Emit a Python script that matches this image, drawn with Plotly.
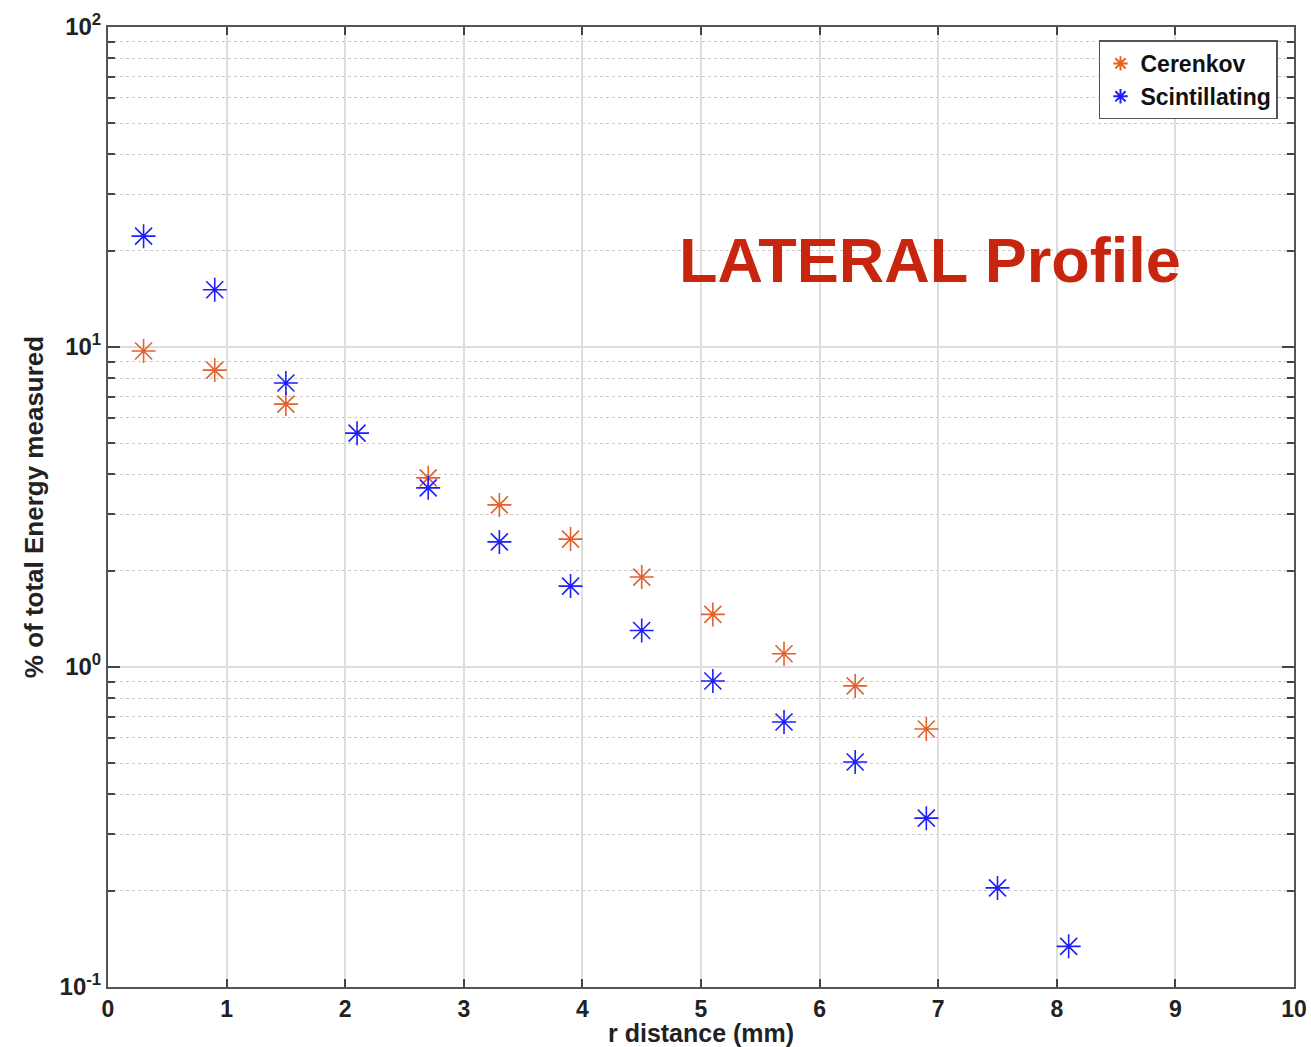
import plotly.graph_objects as go

r_cer = [0.3, 0.9, 1.5, 2.7, 3.3, 3.9, 4.5, 5.1, 5.7, 6.3, 6.9]
e_cer = [9.72, 8.47, 6.63, 3.90, 3.21, 2.51, 1.91, 1.46, 1.10, 0.873, 0.640]

r_sci = [0.3, 0.9, 1.5, 2.1, 2.7, 3.3, 3.9, 4.5, 5.1, 5.7, 6.3, 6.9, 7.5, 8.1]
e_sci = [22.2, 15.1, 7.72, 5.38, 3.63, 2.46, 1.79, 1.30, 0.904, 0.673, 0.505, 0.337, 0.204, 0.134]

x_ticks = list(range(0, 11))
y_tickvals = [0.1, 1, 10, 100]
y_ticktext = ["10<sup>-1</sup>", "10<sup>0</sup>", "10<sup>1</sup>", "10<sup>2</sup>"]
y_minor = [m * d for d in [0.1, 1, 10] for m in range(2, 10)]

ORANGE = "#E2612C"
BLUE = "#1E1EFF"
font_family = "Liberation Sans, Arial, sans-serif"

fig = go.Figure()
fig.add_trace(go.Scatter(
    x=r_cer, y=e_cer, mode="markers", name="Cerenkov",
    marker=dict(symbol="asterisk-open", size=20, color=ORANGE,
                line=dict(color=ORANGE, width=1.6)),
))
fig.add_trace(go.Scatter(
    x=r_sci, y=e_sci, mode="markers", name="Scintillating",
    marker=dict(symbol="asterisk-open", size=20, color=BLUE,
                line=dict(color=BLUE, width=1.6)),
))

fig.add_annotation(
    x=6.93, y=1.272, xref="x", yref="y", text="LATERAL Profile",
    showarrow=False, font=dict(family=font_family, size=63, color="#C8250F", weight="bold"),
    xanchor="center", yanchor="middle",
)

# x-axis title placed as annotation just below tick labels
fig.add_annotation(
    x=0.5, y=-0.048, xref="paper", yref="paper", text="r distance (mm)",
    showarrow=False, font=dict(family=font_family, size=25, color="#222222", weight="bold"),
    xanchor="center", yanchor="middle",
)

fig.update_layout(
    width=1311, height=1047,
    margin=dict(l=108, r=17, t=27, b=60, autoexpand=False),
    paper_bgcolor="white", plot_bgcolor="white",
    font=dict(family=font_family, size=22, color="#222222", weight="bold"),
    showlegend=True,
    legend=dict(
        x=0.9865, y=0.986, xanchor="right", yanchor="top",
        bgcolor="white", bordercolor="#555555", borderwidth=1.5,
        font=dict(size=23, color="#111111", weight="bold"),
        tracegroupgap=0, itemsizing="constant",
    ),
)

fig.update_xaxes(
    range=[0, 10], tickvals=x_ticks, ticktext=[str(v) for v in x_ticks],
    ticks="inside", ticklen=8, tickcolor="#444444", tickwidth=1.5,
    showline=True, linecolor="#555555", linewidth=2, mirror="ticks",
    showgrid=True, gridcolor="#DDDDDD", gridwidth=1.5,
    zeroline=False, automargin=False,
    tickfont=dict(size=23, weight="bold"),
)

fig.update_yaxes(
    type="log", range=[-1, 2], tickvals=y_tickvals, ticktext=y_ticktext,
    ticks="inside", ticklen=12, tickcolor="#444444", tickwidth=1.5,
    showline=True, linecolor="#555555", linewidth=2, mirror="ticks",
    showgrid=True, gridcolor="#DDDDDD", gridwidth=1.5,
    zeroline=False, automargin=False,
    minor=dict(tickmode="array", tickvals=y_minor, ticks="inside", ticklen=7,
               tickcolor="#444444", showgrid=True,
               gridcolor="#C8C8C8", griddash="dot", gridwidth=1),
    title=dict(text="% of total Energy measured", standoff=8, font=dict(size=26, weight="bold")),
    tickfont=dict(size=24, weight="bold"),
)

fig.write_html("out.html")
